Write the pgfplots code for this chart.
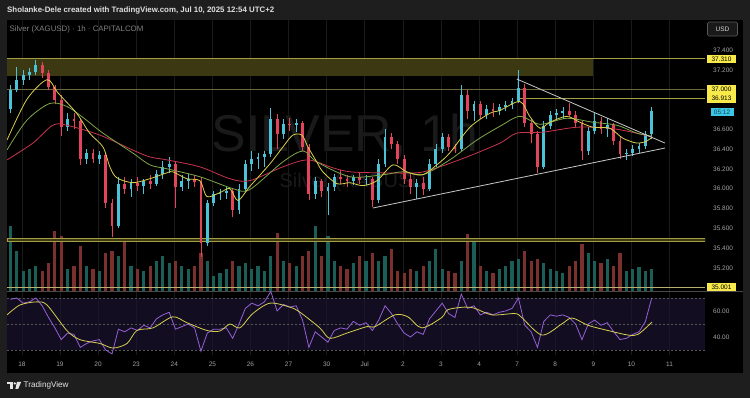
\documentclass[border=0pt]{standalone}
\usepackage{pgfplots}
\usepackage{pgfplotstable}
\pgfplotsset{compat=1.18}
\usepackage{fontspec}
\setmainfont{Liberation Sans}

\definecolor{outerbg}{HTML}{1E1E1E}
\definecolor{gridc}{HTML}{1A1A1A}
\definecolor{upc}{HTML}{4CC2D9}
\definecolor{dnc}{HTML}{E2455B}
\definecolor{volup}{HTML}{1B5E58}
\definecolor{voldn}{HTML}{7A302C}
\definecolor{emay}{HTML}{D9CF4F}
\definecolor{emag}{HTML}{7FA64A}
\definecolor{emar}{HTML}{C9354D}
\definecolor{gold}{HTML}{A69E45}
\definecolor{golddim}{HTML}{6E6940}
\definecolor{goldlt}{HTML}{B8B070}
\definecolor{boxc}{HTML}{3B3812}
\definecolor{tagy}{HTML}{F7EA4A}
\definecolor{tagc}{HTML}{3CC6E4}
\definecolor{tagct}{HTML}{0E4458}
\definecolor{axtext}{HTML}{A3A3A3}
\definecolor{wm}{HTML}{1A1A1A}
\definecolor{rsic}{HTML}{9560D6}
\definecolor{rsima}{HTML}{D6CF52}
\definecolor{rsiband}{HTML}{1A1330}
\definecolor{sepc}{HTML}{4A4A4A}
\definecolor{dashc}{HTML}{555555}
\definecolor{triw}{HTML}{C8C8C8}

\pgfplotstableread{
k o h l c v r
0 36.80 37.05 36.76 37.00 65 69
1 37.00 37.23 36.98 37.10 40 70
2 37.10 37.20 37.05 37.15 20 66
3 37.15 37.22 37.10 37.18 22 67
4 37.18 37.30 37.15 37.25 25 70
5 37.25 37.28 37.12 37.17 20 64
6 37.17 37.20 37.00 37.03 28 55
7 37.03 37.05 36.85 36.90 60 47
8 36.90 36.95 36.53 36.62 55 38
9 36.62 36.76 36.58 36.70 22 43
10 36.70 36.76 36.60 36.68 25 42
11 36.68 36.70 36.24 36.30 45 32
12 36.30 36.40 36.25 36.36 25 35
13 36.36 36.40 36.26 36.30 22 37
14 36.30 36.38 36.25 36.34 20 38
15 36.34 36.36 35.80 35.85 38 30
16 35.85 35.90 35.51 35.62 40 27
17 35.62 36.12 35.60 36.05 35 46
18 36.05 36.12 35.95 36.00 52 44
19 36.00 36.10 35.92 36.06 25 47
20 36.06 36.12 35.98 36.03 22 45
21 36.03 36.10 35.95 36.08 20 49
22 36.08 36.14 36.00 36.05 25 47
23 36.05 36.19 36.03 36.15 30 54
24 36.15 36.28 36.10 36.22 35 57
25 36.22 36.32 36.16 36.25 28 59
26 36.25 36.28 35.80 36.02 30 46
27 36.02 36.14 35.98 36.08 25 48
28 36.08 36.15 36.00 36.10 22 50
29 36.10 36.14 36.02 36.07 25 47
30 36.07 36.12 35.31 35.45 38 29
31 35.45 35.88 35.42 35.85 30 43
32 35.85 35.98 35.82 35.95 15 46
33 35.95 36.00 35.88 35.96 18 46
34 35.96 36.02 35.90 35.98 22 47
35 35.98 36.00 35.71 35.78 30 39
36 35.78 36.05 35.74 36.00 25 50
37 36.00 36.29 35.98 36.25 28 62
38 36.25 36.38 36.18 36.30 22 66
39 36.30 36.36 36.20 36.32 25 64
40 36.32 36.38 36.22 36.35 20 67
41 36.35 36.81 36.32 36.70 35 75
42 36.70 36.75 36.40 36.55 58 60
43 36.55 36.70 36.50 36.65 30 65
44 36.65 36.71 36.58 36.64 28 63
45 36.64 36.70 36.57 36.66 25 64
46 36.66 36.68 36.38 36.42 35 53
47 36.42 36.45 35.88 35.95 40 32
48 35.95 36.12 35.90 36.08 65 44
49 36.08 36.10 35.92 35.98 35 40
50 35.98 36.06 35.73 36.02 55 36
51 36.02 36.15 35.98 36.12 30 45
52 36.12 36.19 36.05 36.10 25 47
53 36.10 36.14 36.02 36.08 22 46
54 36.08 36.14 36.04 36.12 28 52
55 36.12 36.16 36.05 36.09 35 49
56 36.09 36.14 36.04 36.10 30 51
57 36.10 36.12 35.81 35.88 38 45
58 35.88 36.30 35.85 36.25 30 53
59 36.25 36.60 36.22 36.52 35 64
60 36.52 36.56 36.40 36.45 42 58
61 36.45 36.48 36.25 36.30 20 50
62 36.30 36.34 36.05 36.10 18 43
63 36.10 36.15 35.95 36.02 22 40
64 36.02 36.10 35.90 36.06 20 44
65 36.06 36.12 35.94 36.00 25 42
66 36.00 36.30 35.98 36.25 30 54
67 36.25 36.45 36.22 36.40 42 60
68 36.40 36.56 36.36 36.52 22 66
69 36.52 36.55 36.38 36.42 20 58
70 36.42 36.45 36.36 36.40 18 55
71 36.40 37.05 36.38 36.95 30 73
72 36.95 37.00 36.70 36.78 57 62
73 36.78 36.88 36.68 36.85 50 64
74 36.85 36.88 36.70 36.74 25 57
75 36.74 36.84 36.70 36.80 20 59
76 36.80 36.86 36.72 36.78 18 57
77 36.78 36.85 36.74 36.82 22 59
78 36.82 36.88 36.78 36.84 25 60
79 36.84 36.92 36.80 36.88 30 62
80 36.88 37.20 36.86 37.02 32 70
81 37.02 37.06 36.62 36.66 40 49
82 36.66 36.70 36.46 36.55 30 44
83 36.55 36.58 36.16 36.22 32 32
84 36.22 36.68 36.20 36.63 28 52
85 36.63 36.78 36.60 36.74 22 57
86 36.74 36.80 36.70 36.76 20 56
87 36.76 36.82 36.70 36.78 18 57
88 36.78 36.86 36.72 36.74 25 55
89 36.74 36.78 36.62 36.66 30 50
90 36.66 36.68 36.29 36.38 47 38
91 36.38 36.62 36.34 36.58 38 50
92 36.58 36.76 36.55 36.68 30 53
93 36.68 36.72 36.55 36.60 28 49
94 36.60 36.71 36.52 36.64 32 51
95 36.64 36.66 36.44 36.48 25 44
96 36.48 36.52 36.30 36.35 38 38
97 36.35 36.40 36.29 36.36 20 39
98 36.36 36.44 36.33 36.40 22 42
99 36.40 36.46 36.36 36.43 24 44
100 36.43 36.58 36.40 36.55 20 52
101 36.55 36.82 36.50 36.78 22 70
}\candles

\pgfplotstableread{
d p
-0.39 36.49
0.13 36.90
0.66 37.10
0.94 36.97
1.44 36.76
1.78 36.56
2.13 36.42
2.31 36.22
2.49 36.11
2.91 36.06
3.36 36.10
3.81 36.16
3.96 36.17
4.33 36.10
4.67 36.08
4.86 35.92
5.20 35.96
5.46 36.00
5.67 35.88
5.98 36.02
6.51 36.25
6.85 36.42
7.11 36.54
7.35 36.54
7.51 36.42
7.74 36.27
7.90 36.17
8.27 36.05
8.61 36.06
8.95 36.03
9.32 36.08
9.74 36.24
10.10 36.17
10.52 36.14
10.89 36.24
11.23 36.36
11.76 36.62
12.28 36.76
12.55 36.79
13.07 36.88
13.33 36.73
13.60 36.61
13.86 36.67
14.30 36.73
14.65 36.67
14.99 36.62
15.43 36.61
15.77 36.51
16.14 36.46
16.40 36.48
16.54 36.52
}\emayt

\pgfplotstableread{
d p
-0.39 36.39
0.13 36.69
0.73 36.86
1.18 36.83
1.60 36.72
2.13 36.56
2.91 36.36
3.36 36.24
3.81 36.20
4.67 36.12
5.54 36.00
5.98 35.99
6.85 36.27
7.38 36.38
7.74 36.27
8.61 36.12
9.48 36.14
10.00 36.17
10.52 36.14
11.23 36.29
11.94 36.49
12.55 36.63
13.07 36.73
13.60 36.65
14.30 36.71
14.99 36.67
15.62 36.64
16.14 36.56
16.54 36.53
}\emagt

\pgfplotstableread{
d p
-0.39 36.29
0.29 36.46
0.81 36.64
1.18 36.64
2.05 36.54
2.91 36.39
3.36 36.32
3.81 36.29
4.67 36.22
5.46 36.10
5.98 36.08
6.85 36.22
7.51 36.29
8.16 36.21
8.61 36.17
9.32 36.16
10.37 36.16
10.89 36.21
11.68 36.32
12.55 36.46
12.99 36.56
13.67 36.57
14.57 36.62
15.43 36.61
16.14 36.56
16.54 36.52
}\emart

\pgfplotstableread{
d m
-0.39 57
-0.05 64.6
0.39 67
0.66 64.6
1.18 45
1.52 38
2.05 35
2.39 31.5
2.76 35
3.02 45
3.44 47
3.96 55.5
4.33 51
4.86 45
5.20 44.6
5.46 50
5.72 47
6.06 58
6.51 66
7.03 63
7.30 59
7.82 47
8.08 39
8.53 43
9.06 48
9.27 48
9.79 57
10.13 55.5
10.50 47
11.02 55
11.18 61
11.63 63
11.89 62
12.34 57
12.94 58
13.12 55
13.65 41.5
14.17 50
14.44 54.6
14.86 49
15.38 45
15.91 41.5
16.17 42
16.54 51.5
}\rsimat

\pgfplotsset{
  pane/.style={scale only axis, width=698bp, xmin=-0.39, xmax=17.93,
    axis line style={draw=none}, major tick length=0pt, tick style={draw=none},
    tick label style={font=\fontsize{6.5}{7}\selectfont, text=axtext},
    grid style={gridc, line width=0.7bp}},
}
\tikzset{tag/.style={fill=tagy, text=black, font=\fontsize{6.5}{7}\selectfont,
  minimum width=29bp, minimum height=8.6bp, inner sep=0pt}}

\begin{document}
\begin{tikzpicture}
\fill[outerbg] (0bp,0bp) rectangle (750bp,398bp);
\fill[black] (7bp,25bp) rectangle (743bp,378bp);
% watermark
\node[text=wm, font=\fontsize{52}{52}\selectfont] at (345bp,262bp) {SILVER, 1h};
\node[text=wm, font=\fontsize{20}{20}\selectfont] at (356bp,216bp) {Silver (XAGUSD)};

% volume pane (behind price)
\begin{axis}[pane, at={(7bp,107bp)}, anchor=south west, height=271bp,
  ymin=0, ymax=271, xtick={0,...,17}, xticklabel style={text opacity=0}, ytick=\empty, xmajorgrids]
\addplot[draw=volup, line width=3.2bp, quiver={u=0, v=\thisrow{v}},
  restrict expr to domain={\thisrow{c}-\thisrow{o}}{0:100}]
  table[x expr={-0.30+\thisrow{k}/6}, y expr=0] {\candles};
\addplot[draw=voldn, line width=3.2bp, quiver={u=0, v=\thisrow{v}},
  restrict expr to domain={\thisrow{c}-\thisrow{o}}{-100:-0.00001}]
  table[x expr={-0.30+\thisrow{k}/6}, y expr=0] {\candles};
\end{axis}

% price pane
\begin{axis}[pane, at={(7bp,107bp)}, anchor=south west, height=271bp,
  ymin=34.966, ymax=37.703, xtick=\empty,
  ytick={35.2,35.4,35.6,35.8,36.0,36.2,36.4,36.6,36.8,37.0,37.2,37.4},
  yticklabels={35.200,35.400,35.600,35.800,36.000,36.200,36.400,36.600,{},{},37.200,37.400},
  yticklabel pos=right, yticklabel style={anchor=west, inner sep=0pt, xshift=8bp}]
\fill[boxc] (axis cs:-0.39,37.14) rectangle (axis cs:14.99,37.31);
\addplot[gold, line width=1bp] coordinates {(-0.39,37.31) (17.93,37.31)};
\addplot[golddim, line width=0.7bp] coordinates {(-0.39,37.0) (17.93,37.0)};
\addplot[gold, line width=0.8bp] coordinates {(13.07,36.913) (17.93,36.913)};
\draw[gold, fill=boxc, line width=0.7bp] (axis cs:-0.39,35.465) rectangle (axis cs:17.93,35.500);
\addplot[goldlt, line width=0.8bp] coordinates {(-0.39,35.001) (17.93,35.001)};
% wicks
\addplot[draw=upc, line width=0.7bp, quiver={u=0, v=\thisrow{h}-\thisrow{l}},
  restrict expr to domain={\thisrow{c}-\thisrow{o}}{0:100}]
  table[x expr={-0.30+\thisrow{k}/6}, y=l] {\candles};
\addplot[draw=dnc, line width=0.7bp, quiver={u=0, v=\thisrow{h}-\thisrow{l}},
  restrict expr to domain={\thisrow{c}-\thisrow{o}}{-100:-0.00001}]
  table[x expr={-0.30+\thisrow{k}/6}, y=l] {\candles};
% bodies
\addplot[draw=upc, line width=2.8bp, quiver={u=0, v=\thisrow{c}-\thisrow{o}},
  restrict expr to domain={\thisrow{c}-\thisrow{o}}{0:100}]
  table[x expr={-0.30+\thisrow{k}/6}, y=o] {\candles};
\addplot[draw=dnc, line width=2.8bp, quiver={u=0, v=\thisrow{c}-\thisrow{o}},
  restrict expr to domain={\thisrow{c}-\thisrow{o}}{-100:-0.00001}]
  table[x expr={-0.30+\thisrow{k}/6}, y=o] {\candles};
% moving averages
\addplot[emar, line width=0.8bp, smooth] table[x=d, y=p] {\emart};
\addplot[emag, line width=0.8bp, smooth] table[x=d, y=p] {\emagt};
\addplot[emay, line width=0.8bp, smooth] table[x=d, y=p] {\emayt};
% triangle
\addplot[triw, line width=0.8bp] coordinates {(12.99,37.107) (16.88,36.46)};
\addplot[triw, line width=0.8bp] coordinates {(9.21,35.804) (16.88,36.41)};
\coordinate (t1) at (axis cs:17.93,37.31);
\coordinate (t2) at (axis cs:17.93,37.0);
\coordinate (t3) at (axis cs:17.93,36.913);
\coordinate (t4) at (axis cs:17.93,36.775);
\coordinate (t5) at (axis cs:17.93,35.001);
\end{axis}

\node[tag] at ([xshift=16.5bp]t1) {37.310};
\node[tag] at ([xshift=16.5bp]t2) {37.000};
\node[tag] at ([xshift=16.5bp]t3) {36.913};
\node[tag] at ([xshift=16.5bp]t5) {35.001};
\node[tag, fill=tagc, text=tagct, minimum width=23bp] at ([xshift=17bp]t4) {05:12};

% pane separator
\draw[sepc, line width=0.9bp] (7bp,106.5bp) -- (743bp,106.5bp);

% RSI pane
\begin{axis}[pane, at={(7bp,43bp)}, anchor=south west, height=63bp,
  ymin=26.15, ymax=74.6, xtick={0,...,17},
  xticklabels={18,19,20,23,24,25,26,27,30,Jul,2,3,4,7,8,9,10,11},
  xticklabel style={anchor=base, yshift=-11.5bp}, xmajorgrids,
  ytick={40,60}, yticklabels={40.00,60.00},
  yticklabel pos=right, yticklabel style={anchor=west, inner sep=0pt, xshift=8bp}]
\fill[rsiband, opacity=0.7] (axis cs:-0.39,30) rectangle (axis cs:17.93,70);
\draw[dashc, dash pattern=on 2bp off 2bp, line width=0.6bp] (axis cs:-0.39,70) -- (axis cs:17.93,70);
\draw[dashc, dash pattern=on 2bp off 2bp, line width=0.6bp] (axis cs:-0.39,50) -- (axis cs:17.93,50);
\draw[dashc, dash pattern=on 2bp off 2bp, line width=0.6bp] (axis cs:-0.39,30) -- (axis cs:17.93,30);
\addplot[rsic, line width=0.8bp] table[x expr={-0.30+\thisrow{k}/6}, y=r] {\candles};
\addplot[rsima, line width=0.8bp, smooth] table[x=d, y=m] {\rsimat};
\end{axis}

% header / legend / USD
\node[anchor=west, text=white!88!black, font=\bfseries\fontsize{7.9}{8.5}\selectfont, inner sep=0pt] at (7bp,388bp) {Sholanke-Dele created with TradingView.com, Jul 10, 2025 12:54 UTC+2};
\node[anchor=west, text=white!50!black, font=\fontsize{7.9}{8.5}\selectfont, inner sep=0pt] at (9.5bp,369bp) {Silver (XAGUSD) · 1h · CAPITALCOM};
\draw[white!35!black, rounded corners=1.5bp, line width=0.6bp, fill=black!90!white] (707.5bp,362bp) rectangle (737.5bp,376bp);
\node[text=white!85!black, font=\fontsize{6.5}{7}\selectfont] at (722.5bp,369bp) {USD};

% footer logo
\fill[white!90!black] (7bp,16.2bp) rectangle (12.8bp,13.8bp);
\fill[white!90!black] (10.2bp,16.2bp) rectangle (12.8bp,9.2bp);
\fill[white!90!black] (14.8bp,14.6bp) circle (1.3bp);
\fill[white!90!black] (17bp,16.2bp) -- (21.2bp,16.2bp) -- (18.2bp,9.2bp) -- (15.4bp,9.2bp) -- cycle;
\node[anchor=west, text=white!90!black, font=\fontsize{8.2}{9}\selectfont, inner sep=0pt] at (23.5bp,12.8bp) {TradingView};
\end{tikzpicture}
\end{document}
